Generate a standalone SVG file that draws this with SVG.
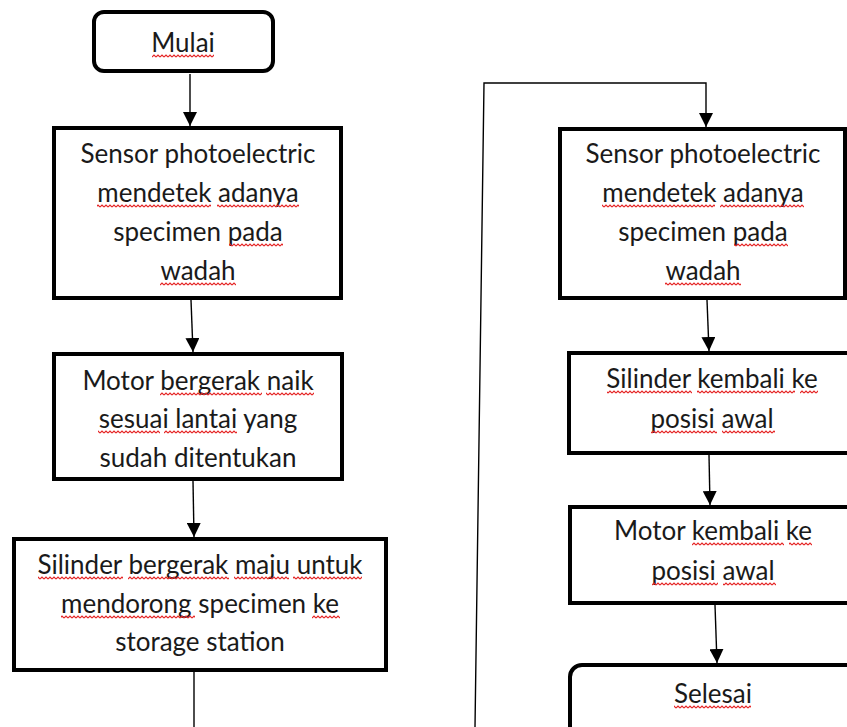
<svg xmlns="http://www.w3.org/2000/svg" width="847" height="727" viewBox="0 0 847 727">
<style>
.box{fill:#fff;stroke:#000;stroke-width:4}
.t{font-family:Lato,"Open Sans","Liberation Sans",sans-serif;font-size:26px;fill:#1a1a1a;text-anchor:middle}
.c{fill:none;stroke:#000;stroke-width:1.4}
.sq rect{fill:url(#wave);height:4px}
</style>
<defs>
<marker id="ah" markerUnits="userSpaceOnUse" markerWidth="14" markerHeight="14" refX="14" refY="7" orient="auto">
<path d="M0,0 L14,7 L0,14 z" fill="#000"/>
</marker>
<pattern id="wave" patternUnits="userSpaceOnUse" width="4" height="4">
<path d="M0,3 L2,1 L4,3" fill="none" stroke="#e52222" stroke-width="1.1"/>
</pattern>
</defs>
<rect width="847" height="727" fill="#fff"/>
<g id="connectors">
<line class="c" x1="190" y1="74" x2="190" y2="126" marker-end="url(#ah)"/>
<line class="c" x1="191" y1="300" x2="193" y2="352" marker-end="url(#ah)"/>
<line class="c" x1="193" y1="481" x2="194" y2="537" marker-end="url(#ah)"/>
<line class="c" x1="194" y1="672" x2="194" y2="727"/>
<polyline class="c" points="475,727 484,83 706,83 706,127" marker-end="url(#ah)"/>
<line class="c" x1="707" y1="300" x2="709" y2="351" marker-end="url(#ah)"/>
<line class="c" x1="709" y1="455" x2="710" y2="505" marker-end="url(#ah)"/>
<line class="c" x1="715" y1="605" x2="717" y2="663" marker-end="url(#ah)"/>
</g>
<g id="mulai">
<rect class="box" x="94" y="12" width="179" height="59" rx="10"/>
<text class="t" x="183" y="52">Mulai</text>
<g class="sq" transform="translate(0,54)"><rect x="152" width="62"/></g>
</g>
<g id="sensor1">
<rect class="box" x="54" y="128" width="287" height="170"/>
<text class="t" x="198" y="163">Sensor photoelectric</text>
<text class="t" x="198" y="202">mendetek adanya</text>
<text class="t" x="198" y="241">specimen pada</text>
<text class="t" x="198" y="280">wadah</text>
<g class="sq" transform="translate(0,204)"><rect x="97" width="114"/><rect x="217" width="82"/></g>
<g class="sq" transform="translate(0,243)"><rect x="229" width="54"/></g>
<g class="sq" transform="translate(0,282)"><rect x="160" width="76"/></g>
</g>
<g id="motor1">
<rect class="box" x="54" y="354" width="288" height="125"/>
<text class="t" x="198" y="390">Motor bergerak naik</text>
<text class="t" x="198" y="428">sesuai lantai yang</text>
<text class="t" x="198" y="467">sudah ditentukan</text>
<g class="sq" transform="translate(0,392)"><rect x="160" width="102"/><rect x="266" width="48"/></g>
<g class="sq" transform="translate(0,430)"><rect x="98" width="62"/><rect x="164" width="73"/></g>
</g>
<g id="silinder1">
<rect class="box" x="14" y="539" width="372" height="131"/>
<text class="t" x="200" y="574">Silinder bergerak maju untuk</text>
<text class="t" x="200" y="613">mendorong specimen ke</text>
<text class="t" x="200" y="651">storage station</text>
<g class="sq" transform="translate(0,576)"><rect x="38" width="85"/><rect x="128" width="101"/><rect x="234" width="55"/><rect x="293" width="69"/></g>
<g class="sq" transform="translate(0,615)"><rect x="61" width="134"/><rect x="312" width="28"/></g>
</g>
<g id="sensor2">
<rect class="box" x="560" y="129" width="285" height="169"/>
<text class="t" x="703" y="163">Sensor photoelectric</text>
<text class="t" x="703" y="202">mendetek adanya</text>
<text class="t" x="703" y="241">specimen pada</text>
<text class="t" x="703" y="280">wadah</text>
<g class="sq" transform="translate(0,204)"><rect x="602" width="113"/><rect x="720" width="84"/></g>
<g class="sq" transform="translate(0,243)"><rect x="734" width="54"/></g>
<g class="sq" transform="translate(0,282)"><rect x="665" width="76"/></g>
</g>
<g id="silinder2">
<rect class="box" x="569" y="353" width="300" height="100"/>
<text class="t" x="712" y="388">Silinder kembali ke</text>
<text class="t" x="712" y="428">posisi awal</text>
<g class="sq" transform="translate(0,390)"><rect x="607" width="85"/><rect x="697" width="98"/><rect x="800" width="18"/></g>
<g class="sq" transform="translate(0,430)"><rect x="651" width="66"/><rect x="722" width="53"/></g>
</g>
<g id="motor2">
<rect class="box" x="570" y="507" width="300" height="96"/>
<text class="t" x="713" y="540">Motor kembali ke</text>
<text class="t" x="713" y="580">posisi awal</text>
<g class="sq" transform="translate(0,542)"><rect x="692" width="92"/><rect x="789" width="23"/></g>
<g class="sq" transform="translate(0,582)"><rect x="652" width="66"/><rect x="723" width="53"/></g>
</g>
<g id="selesai">
<rect class="box" x="570" y="665" width="300" height="80" rx="12"/>
<text class="t" x="713" y="703">Selesai</text>
<g class="sq" transform="translate(0,705)"><rect x="674" width="77"/></g>
</g>
</svg>
